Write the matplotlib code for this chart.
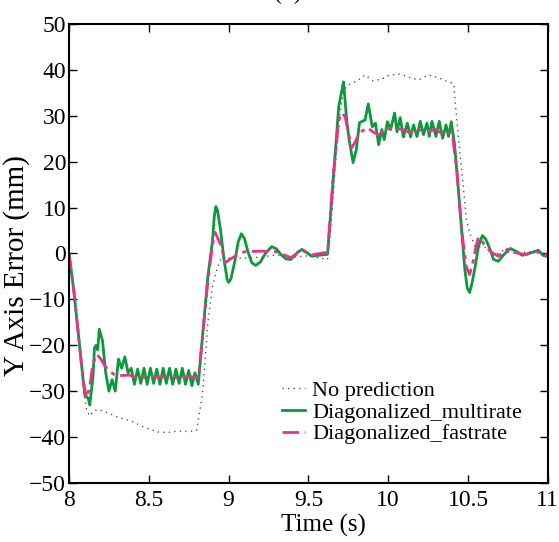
import numpy as np
import matplotlib.pyplot as plt

plt.rcParams['font.family'] = ['Liberation Serif', 'DejaVu Serif']

# No prediction (dotted)
t_none = [8.0, 8.03, 8.06, 8.09, 8.11, 8.13, 8.15, 8.175, 8.225, 8.31, 8.39, 8.48, 8.56,
          8.62, 8.68, 8.75, 8.80, 8.835, 8.85, 8.87, 8.90, 8.93, 8.96, 9.00, 9.10, 9.20,
          9.30, 9.40, 9.50, 9.62, 9.64, 9.67, 9.70, 9.72, 9.75, 9.805, 9.855, 9.905, 9.96,
          10.01, 10.075, 10.14, 10.19, 10.25, 10.315, 10.375, 10.41, 10.42, 10.44, 10.46,
          10.49, 10.51, 10.545, 10.61, 10.66, 10.72, 10.80, 10.88, 10.95, 11.0]
y_none = [0, -8, -18, -29, -34, -35.4, -34.5, -34, -34.5, -35.7, -36.5, -38, -38.9,
          -39, -38.7, -38.8, -38.5, -31, -24.5, -15, -7, -3, -0.6, -1, -1, -0.8,
          -0.3, -0.8, -0.5, -1.3, 5, 20, 31, 35.6, 36.7, 37.6, 38.9, 37.6, 38,
          38.9, 39.1, 38.3, 37.8, 38.9, 38.3, 37.4, 37, 32.8, 25.4, 18.3,
          7.4, 4.5, 1.5, 1.3, -0.5, 0.6, 0, 0.4, 0.3, -0.3]

# Diagonalized multirate (solid green)
t_multi = [8.0, 8.03, 8.06, 8.09, 8.10, 8.12, 8.13, 8.15, 8.16, 8.17, 8.18, 8.19, 8.21,
           8.23, 8.25, 8.27, 8.29, 8.31, 8.33, 8.35, 8.37, 8.39, 8.41, 8.43, 8.45, 8.47,
           8.49, 8.51, 8.53, 8.55, 8.57, 8.59, 8.61, 8.63, 8.65, 8.67, 8.69, 8.71, 8.73,
           8.75, 8.77, 8.79, 8.81, 8.835, 8.87, 8.90, 8.91, 8.92, 8.93, 8.95, 8.97, 8.99,
           9.00, 9.015, 9.04, 9.06, 9.08, 9.10, 9.12, 9.145, 9.17, 9.20, 9.23, 9.27, 9.30,
           9.33, 9.36, 9.39, 9.43, 9.46, 9.49, 9.52, 9.56, 9.62, 9.655, 9.69, 9.72,
           9.74, 9.755, 9.78, 9.80, 9.82, 9.855, 9.875, 9.90, 9.92, 9.94, 9.96, 9.975,
           9.995, 10.015, 10.04, 10.055, 10.075, 10.095, 10.12, 10.14, 10.159, 10.18,
           10.201, 10.221, 10.243, 10.257, 10.274, 10.299, 10.32, 10.341, 10.362, 10.378,
           10.395, 10.415, 10.43, 10.46, 10.48, 10.495, 10.51, 10.525, 10.545, 10.565,
           10.59, 10.61, 10.63, 10.66, 10.69, 10.72, 10.765, 10.80, 10.84, 10.89, 10.94,
           10.97, 11.0]
y_multi = [0, -8, -18, -28, -31, -31.5, -33, -27, -20.5, -20, -21, -16.5, -19,
           -26, -30, -27.5, -30, -23, -25, -22.5, -26, -25, -28.5, -25.2, -28.3, -25,
           -28.5, -25, -28.3, -25.2, -28.5, -25, -28.3, -25, -28.5, -25.2, -28.3, -25, -28.5,
           -25.5, -28.8, -26, -28.5, -18.7, -5, 3, 8, 10.2, 9.5, 5, -1, -5.5,
           -6.3, -5.5, -1.5, 2.5, 4.3, 3.2, 0.5, -2, -2.6, -1.8, 0, 1.5, 1,
           -0.3, -1.2, -1.3, 0.2, 0.9, 0.2, -0.6, -0.4, -0.2, 16, 32, 37.4,
           29, 24.8, 19.8, 22.6, 28.5, 29.1, 32.6, 27.6, 28.4, 23.7, 27, 24.8,
           28.7, 27, 30.6, 26.5, 29.6, 25.4, 28.4, 25.4, 28.0, 25.5,
           28.8, 25.9, 28.4, 25.5, 28.8, 25.5, 28.8, 25.1, 28.0, 25.5,
           28.7, 24, 18, 5, -3.5, -7.5, -8.5, -6.5, -2.8, 1.5,
           3.9, 3.2, 1.6, -1.3, -1.7, -0.4, 1.1, 0.5, -0.4, 0.1, 0.7,
           -0.4, -0.7]

# Diagonalized fastrate (dash-dot pink)
t_fast = [8.0, 8.03, 8.06, 8.09, 8.11, 8.13, 8.15, 8.175, 8.20, 8.225, 8.25, 8.28, 8.32,
          8.38, 8.44, 8.50, 8.56, 8.62, 8.68, 8.74, 8.81, 8.835, 8.87, 8.90, 8.915, 8.95,
          8.98, 9.02, 9.05, 9.10, 9.20, 9.30, 9.39, 9.46, 9.52, 9.60, 9.62, 9.655, 9.69,
          9.71, 9.73, 9.75, 9.77, 9.79, 9.82, 9.87, 9.905, 9.94, 9.97, 10.025, 10.09,
          10.14, 10.19, 10.24, 10.295, 10.34, 10.38, 10.40, 10.43, 10.46, 10.49, 10.51,
          10.53, 10.55, 10.565, 10.58, 10.60, 10.65, 10.69, 10.745, 10.80, 10.86, 10.92,
          10.96, 11.0]
y_fast = [0, -8, -18, -28, -31.5, -29, -24, -22, -23, -24.5, -25.5, -26.3, -26.6,
          -26.5, -27.3, -26.7, -27, -26.7, -27.2, -26.8, -27, -19, -6, 2, 4.6, 2,
          -2, -1, -0.4, 0.4, 0.5, 0.4, -0.9, 0.7, -0.3, 0.2, 0, 16.7, 29,
          30.6, 29.8, 26.5, 23, 24.1, 26.3, 27.4, 26.5, 25.8, 26.7, 27.4, 27,
          26.3, 27, 26.5, 27, 26.1, 26.3, 26.5, 18, 5, -3, -4.6,
          -2, 1.5, 3.5, 3.2, 2, 0.2, -0.6, 0.9, 0.2, -0.3, 0.6,
          -0.2, -0.4]

fig = plt.figure(figsize=(5.59, 5.42), dpi=100)
ax = fig.add_axes([0.1234, 0.1089, 0.8566, 0.8468])

ax.plot(t_none, y_none, color='#555555', lw=1.0, ls=(0, (1, 3)), label='No prediction')
ax.plot(t_multi, y_multi, color='#0a9a3c', lw=2.0, label='Diagonalized_multirate')
ax.plot(t_fast, y_fast, color='#e8338a', lw=2.0, ls=(0, (6, 2, 1.5, 2)),
        label='Diagonalized_fastrate')

ax.set_xlim(8, 11)
ax.set_ylim(-50, 50)
ax.set_xticks([8, 8.5, 9, 9.5, 10, 10.5, 11])
ax.set_xticklabels(['8', '8.5', '9', '9.5', '10', '10.5', '11'])
ax.set_yticks(np.arange(-50, 51, 10))
ax.tick_params(direction='in', top=True, right=True, length=6, width=1, labelsize=17)
ax.tick_params(axis='x', pad=5)
ax.tick_params(axis='y', pad=2)
for s in ax.spines.values():
    s.set_linewidth(1.5)

ax.set_xlabel('Time (s)', fontsize=18)
ax.set_ylabel('Y Axis Error (mm)', fontsize=21)
ax.xaxis.set_label_coords(0.532, -0.067, transform=ax.transAxes)
ax.yaxis.set_label_coords(-0.082, 0.473, transform=ax.transAxes)

ax.legend(loc='lower right', bbox_to_anchor=(0.97, 0.06), frameon=False, fontsize=16,
          handlelength=1.0, handletextpad=0.35, labelspacing=0.05, borderpad=0)

fig.text(0.515, 1 - 4 / 542, '(b)', ha='center', va='bottom', fontsize=17)

plt.savefig('out.png', dpi=100)
